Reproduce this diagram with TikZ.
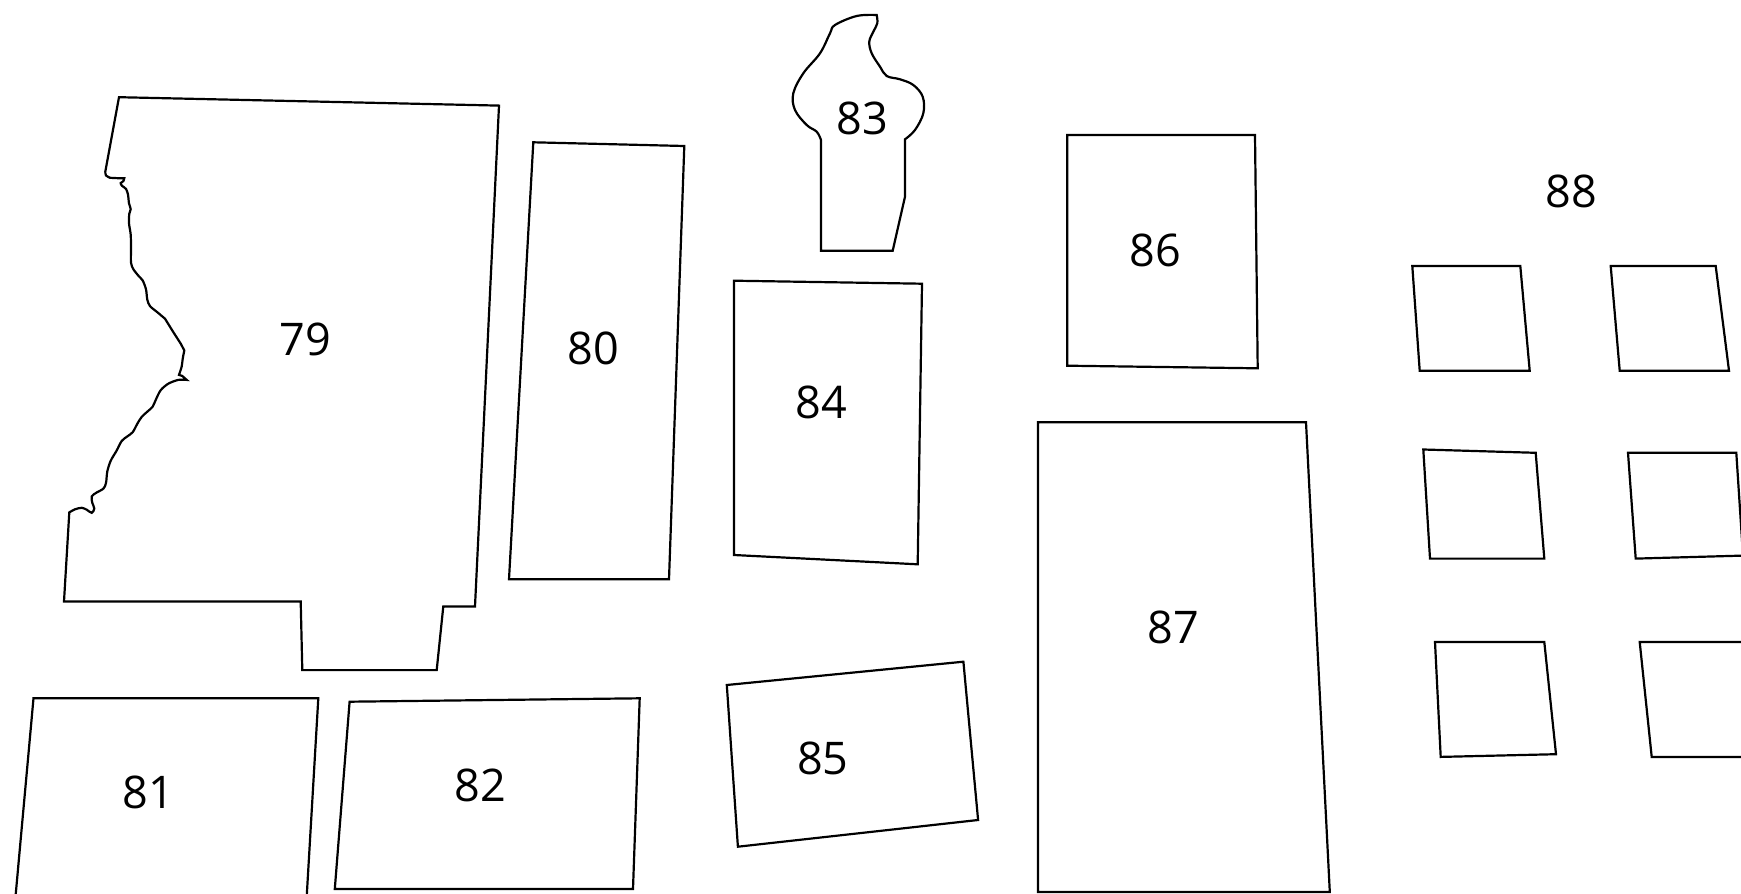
\documentclass[tikz,border=0pt]{standalone}
\usepackage{fontspec}
\setmainfont{Open Sans}
\begin{document}
\begin{tikzpicture}[x=0.5pt,y=-0.5pt,
  region/.style={draw=black,line width=1.1pt,line join=miter},
  lbl/.style={font=\fontsize{22.5}{22.5}\selectfont,inner sep=0pt}]
\useasboundingbox (0,0) rectangle (1741,894);
\clip (0,0) rectangle (1741,894);
% 79
\draw[region] (119,97.2) -- (499,105.6) -- (475,606.4) -- (443.3,606.4) -- (436.7,670.1)
  -- (302.3,670.1) -- (300.7,601.4) -- (64,601.4) -- (69.3,512.4)
  -- plot[smooth,tension=0.5] coordinates {(69.3,512.4) (75.0,509.3) (81.7,507.8) (86.7,509.7) (91.7,512.8)
  (94.3,508.6) (92.3,502.8) (91.7,496.4) (96.7,492.5) (103.3,488.7) (106.0,483.0) (107.3,471.5)
  (110.7,460.8) (116.7,450.5) (121.7,441.0) (127.3,436.4) (132.7,432.2) (137.3,423.8) (141.7,416.9)
  (148.3,410.8) (152.7,406.6) (156.0,399.3) (160.7,390.2) (168.3,383.7) (178.3,379.9) (186.7,379.9)}
  -- (182.3,376.0) -- (179.0,374.9)
  -- plot[smooth,tension=0.5] coordinates {(179.0,374.9) (181.7,366.5) (182.7,358.8) (184.3,350.4)}
  -- (180.7,343.6) -- (173.3,332.1) -- (165.0,318.7)
  -- plot[smooth,tension=0.5] coordinates {(165.0,318.7) (157.3,312.2) (150.0,306.1) (147.3,299.6)
  (146.0,289.3) (142.7,280.5) (138.3,275.6) (133.3,269.1) (131.0,262.6) (131.0,248.1) (130.7,234.7)
  (129.0,223.2) (129.3,213.7) (130.7,209.1) (129.0,203.4) (128.0,194.6) (126.0,188.9) (122.0,185.8)
  (120.7,183.1) (123.3,181.2) (124.3,178.2)}
  -- (118.3,178.2) -- (110.0,177.8)
  -- plot[smooth,tension=0.5] coordinates {(110.0,177.8) (106.0,175.5) (105.3,171.7)}
  -- cycle;
\node[lbl] (n79) at (305,339) {79};
% 80
\draw[region] (533.3,142.3) -- (684.3,146) -- (669,579.3) -- (509,579.3) -- cycle;
\node[lbl] (n80) at (593.3,348.3) {80};
% 81
\draw[region] (33.5,698.3) -- (318.3,698.3) -- (306.5,900) -- (15.2,900) -- cycle;
\node[lbl] (n81) at (148,792) {81};
% 82
\draw[region] (349.6,701.7) -- (639.7,698.3) -- (633,889) -- (334.8,889) -- cycle;
\node[lbl] (n82) at (480,785) {82};
% 83
\draw[region] (892.7,250.7) -- (821,250.7) -- (821,140)
  -- plot[smooth,tension=0.6] coordinates {(821,140) (816.7,131.7) (806.7,125) (795,110) (793.3,93.3)
  (803.3,73.3) (820,53.3) (830,33.3) (835,25) (856.7,16) (876.7,15)}
  -- plot[smooth,tension=0.6] coordinates {(876.7,15) (877.3,23.3) (873.3,31.7) (869.3,41.7) (871.7,53.3)
  (880,66.7) (886.7,76) (900,79.3) (913.3,85) (922.7,96.7) (923.3,113.3) (915,130) (905,139.3)}
  -- (905,196.7) -- cycle;
\node[lbl] (n83) at (862.5,118.5) {83};
% 84
\draw[region] (734,280.7) -- (922,283.7) -- (917.7,564.3) -- (734,555) -- cycle;
\node[lbl] (n84) at (821.7,402.7) {84};
% 85
\draw[region] (726.8,685) -- (963.4,661.7) -- (978.1,820) -- (737.9,846.7) -- cycle;
\node[lbl] (n85) at (822.8,758.3) {85};
% 86
\draw[region] (1067.3,135) -- (1255,135) -- (1257.7,368.3) -- (1067.3,365.7) -- cycle;
\node[lbl] (n86) at (1155,250.5) {86};
% 87
\draw[region] (1038,422.3) -- (1306,422.3) -- (1329.8,892) -- (1038,892) -- cycle;
\node[lbl] (n87) at (1173.6,627.3) {87};
% 88
\draw[region] (1412.3,266) -- (1520.3,266) -- (1529.7,370.7) -- (1419.7,370.7) -- cycle;
\draw[region] (1610.7,266) -- (1715.7,266) -- (1729,370.7) -- (1619.7,370.7) -- cycle;
\draw[region] (1423.3,449.5) -- (1535.7,452.8) -- (1544.3,558.6) -- (1430,558.6) -- cycle;
\draw[region] (1628,452.8) -- (1736.3,452.8) -- (1743,555.6) -- (1635.7,558.6) -- cycle;
\draw[region] (1435,642) -- (1544.3,642) -- (1556,754.2) -- (1440.7,756.9) -- cycle;
\draw[region] (1639.7,642) -- (1760,642) -- (1770,756.9) -- (1651.7,756.9) -- cycle;
\node[lbl] (n88) at (1571,191) {88};
\end{tikzpicture}
\end{document}
